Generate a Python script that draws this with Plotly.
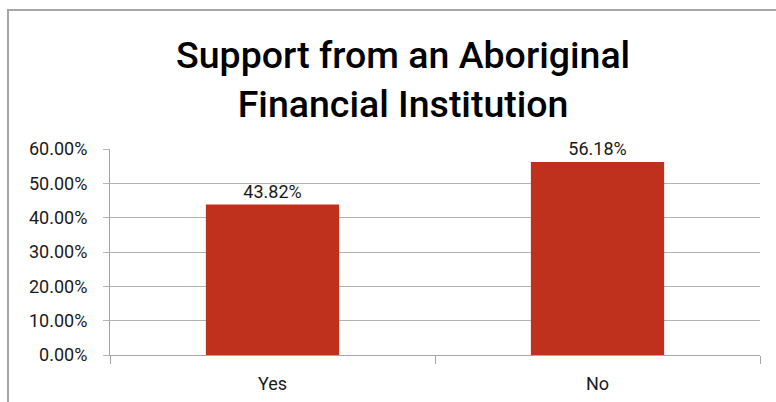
import plotly.graph_objects as go

categories = ["Yes", "No"]
shares = [0.4382, 0.5618]
y_ticks = [0, 0.1, 0.2, 0.3, 0.4, 0.5, 0.6]

W, H = 776, 402
L, R, T, B = 110, 16, 149, 47
plot_w = W - L - R
plot_h = H - T - B

TEXT = "#1a1a1a"
GRID = "#b3b3b3"
FRAME = "#a6a6a6"

fig = go.Figure(
    go.Bar(
        x=categories,
        y=shares,
        marker=dict(color="#BF311D", line=dict(width=0)),
        width=0.41,
        texttemplate="%{y:.2%}",
        textposition="outside",
        textfont=dict(family="Roboto", size=18, color=TEXT),
        cliponaxis=False,
    )
)


def px_to_paper_x(px):
    return (px - L) / plot_w


def px_to_paper_y(py):
    return (H - B - py) / plot_h


# Outer frame: top and left edges
fig.add_shape(type="line", xref="paper", yref="paper",
              x0=px_to_paper_x(7), x1=px_to_paper_x(W + 2),
              y0=px_to_paper_y(10), y1=px_to_paper_y(10),
              line=dict(color=FRAME, width=2))
fig.add_shape(type="line", xref="paper", yref="paper",
              x0=px_to_paper_x(8), x1=px_to_paper_x(8),
              y0=px_to_paper_y(9), y1=px_to_paper_y(H + 2),
              line=dict(color=FRAME, width=2))

# Two-line chart title
fig.add_annotation(
    text="Support from an Aboriginal<br>Financial Institution",
    xref="paper", yref="paper",
    x=px_to_paper_x(403), y=px_to_paper_y(31),
    xanchor="center", yanchor="top",
    showarrow=False,
    font=dict(family="Roboto", size=37.5, color="#000000", weight=500),
    align="center",
)

fig.update_layout(
    width=W,
    height=H,
    margin=dict(l=L, r=R, t=T, b=B, pad=0, autoexpand=False),
    paper_bgcolor="white",
    plot_bgcolor="white",
    showlegend=False,
    font=dict(family="Roboto", color=TEXT),
    xaxis=dict(
        type="category",
        range=[-0.5, 1.5],
        automargin=False,
        tickson="boundaries",
        ticks="outside",
        ticklen=8,
        tickcolor=FRAME,
        tickwidth=1,
        ticklabelstandoff=12,
        showline=True,
        linecolor=FRAME,
        linewidth=1,
        showgrid=False,
        tickfont=dict(family="Roboto", size=18, color=TEXT),
    ),
    yaxis=dict(
        range=[0, 0.6],
        automargin=False,
        tickvals=y_ticks,
        tickformat=".2%",
        ticks="outside",
        ticklen=6,
        tickcolor=GRID,
        ticklabelstandoff=12,
        showline=True,
        linecolor=FRAME,
        linewidth=1,
        showgrid=True,
        gridcolor=GRID,
        gridwidth=1,
        zeroline=False,
        tickfont=dict(family="Roboto", size=18, color=TEXT),
    ),
)

fig.write_html("out.html")
